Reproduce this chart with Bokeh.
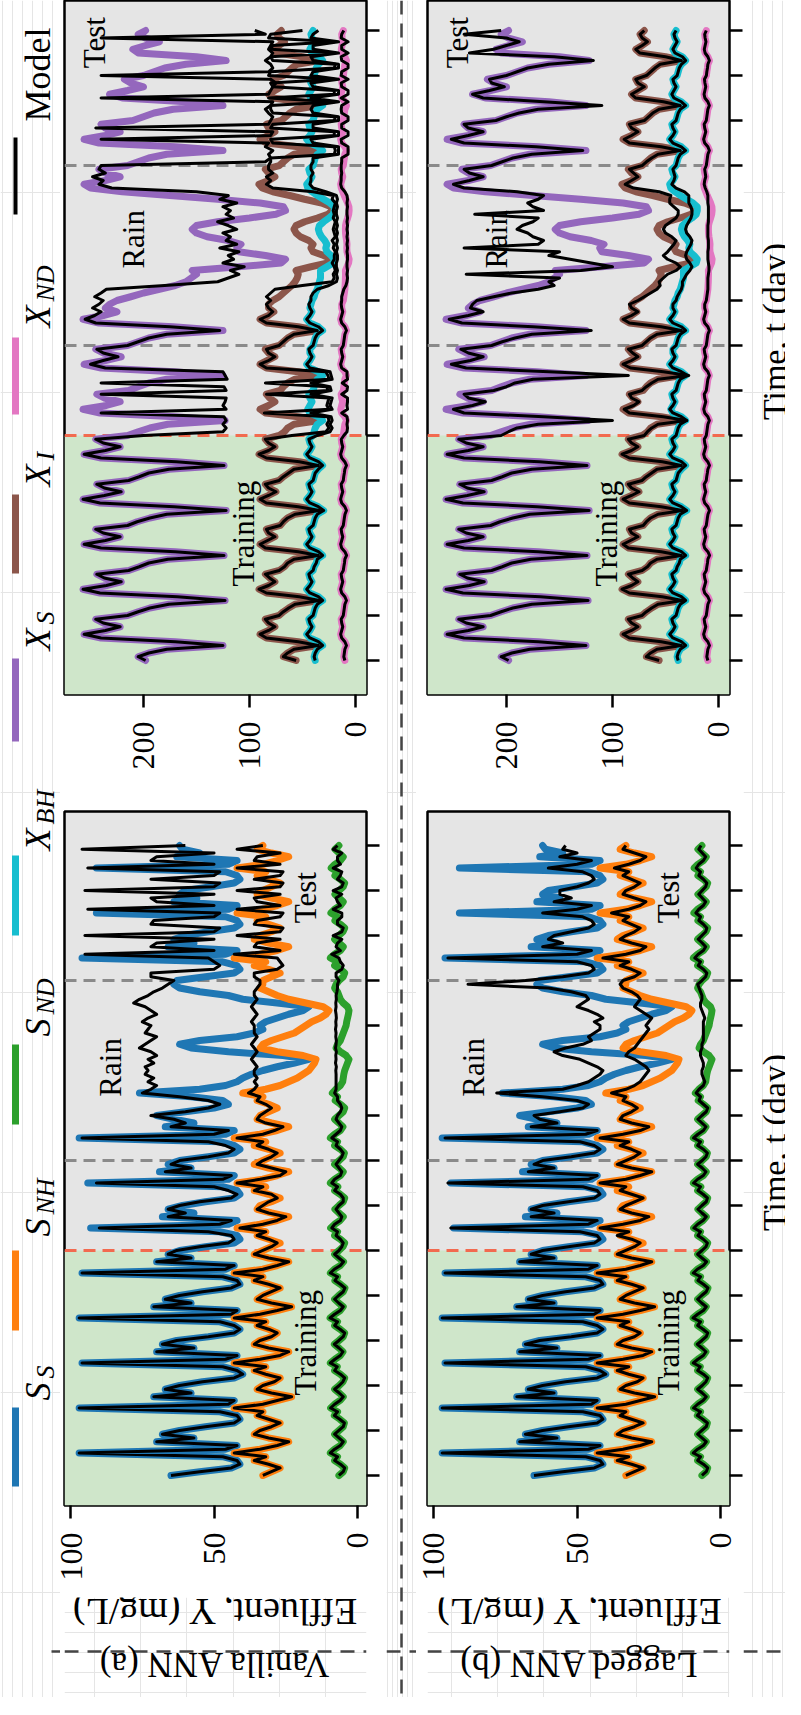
import math
from bokeh.plotting import figure
from bokeh.layouts import row, column
from bokeh.models import Range1d, FixedTicker, BoxAnnotation, Span
from bokeh.core.properties import value
from bokeh.embed import file_html
from bokeh.resources import INLINE

SERIF = "Liberation Serif"
C_SS, C_SNH, C_SND = "#1f77b4", "#ff7f0e", "#2ca02c"
C_XBH, C_XS, C_XI, C_XND = "#17becf", "#9467bd", "#8c564b", "#e377c2"
GRAY_BG = "#e5e5e5"
GREEN_BG = "#cfe6ca"
RED = "#f26a4f"
GRAY_DASH = "#8a8a8a"
SEP = "#454545"

DAY_TICKS = list(range(15))
S_TICKS = [0, 50, 100]
X_TICKS = [0, 100, 200]
TRAIN_END = 5
GRAY_LINES = [7, 11]
STEPS = 12
t = [k / STEPS for k in range(14 * STEPS + 1)]

# ---------------- true series (2-hour samples, one row per day) ----------------
SS_DAYS = [
    [65, 55, 44, 41, 42, 47, 97, 46, 42, 70, 57, 68],
    [62, 53, 43, 41, 42, 48, 97, 45, 43, 71, 58, 67],
    [62, 54, 43, 40, 42, 47, 96, 46, 42, 70, 57, 68],
    [63, 52, 43, 41, 43, 48, 97, 44, 42, 71, 58, 67],
    [62, 54, 44, 41, 42, 47, 96, 46, 43, 70, 58, 66],
    [62, 53, 43, 41, 42, 48, 93, 45, 42, 68, 57, 66],
    [61, 53, 43, 41, 42, 47, 94, 45, 43, 69, 58, 66],
    [62, 52, 43, 41, 43, 48, 97, 46, 43, 67, 57, 64],
    [70, 60, 50, 45, 47, 58, 76, 55, 46, 42, 40, 37],
    [33, 28, 22, 17, 26, 45, 58, 62, 55, 42, 36, 33],
    [34, 32, 28, 24, 19, 17, 28, 40, 45, 55, 62, 64],
    [63, 53, 43, 41, 42, 47, 96, 46, 42, 66, 57, 64],
    [60, 52, 43, 41, 42, 46, 91, 45, 42, 64, 56, 62],
    [60, 51, 43, 41, 42, 46, 91, 45, 42, 63, 55, 61],
]
SS_END = 62
SNH_DAYS = [
    [33, 30, 27, 31, 36, 32, 43, 34, 28, 24, 31, 36],
    [34, 30, 27, 31, 35, 33, 43, 33, 28, 23, 30, 35],
    [33, 29, 27, 32, 36, 32, 43, 34, 27, 24, 31, 36],
    [34, 30, 28, 31, 35, 32, 43, 34, 28, 23, 30, 35],
    [33, 30, 27, 31, 36, 33, 43, 33, 28, 24, 31, 36],
    [33, 30, 27, 31, 35, 32, 42, 34, 28, 24, 30, 35],
    [34, 30, 27, 31, 36, 32, 42, 33, 28, 24, 31, 36],
    [33, 30, 27, 31, 36, 32, 43, 34, 28, 24, 30, 35],
    [34, 31, 28, 31, 35, 33, 40, 32, 27, 24, 21, 19],
    [17, 16, 15, 14.5, 19, 28, 34, 33, 30, 26, 22, 20],
    [18, 16, 13, 11, 10, 12, 18, 24, 28, 31, 34, 33],
    [33, 30, 27, 31, 36, 32, 43, 34, 28, 24, 31, 36],
    [34, 30, 27, 31, 35, 32, 42, 33, 28, 24, 30, 35],
    [33, 30, 27, 31, 35, 32, 42, 33, 28, 24, 30, 35],
]
SNH_END = 33
SND_DAYS = [
    [6.5, 5.0, 4.5, 6.0, 8.0, 7.0, 9.5, 8.0, 6.0, 5.0, 6.5, 8.0],
    [6.5, 5.0, 4.6, 6.2, 8.1, 7.0, 9.4, 8.0, 6.1, 5.0, 6.4, 8.0],
    [6.4, 5.1, 4.5, 6.0, 8.0, 7.1, 9.5, 7.9, 6.0, 5.1, 6.5, 8.1],
    [6.5, 5.0, 4.5, 6.1, 8.0, 7.0, 9.6, 8.0, 6.0, 5.0, 6.6, 8.0],
    [6.6, 5.0, 4.4, 6.0, 7.9, 7.0, 9.5, 8.1, 6.0, 4.9, 6.5, 8.0],
    [6.5, 5.1, 4.5, 6.0, 8.0, 7.0, 9.4, 8.0, 6.1, 5.0, 6.5, 7.9],
    [6.5, 5.0, 4.5, 6.1, 8.0, 6.9, 9.5, 8.0, 6.0, 5.0, 6.4, 8.0],
    [6.4, 5.0, 4.6, 6.0, 8.0, 7.0, 9.5, 8.0, 6.0, 5.1, 6.5, 8.0],
    [6.5, 5.0, 4.5, 6.0, 7.8, 7.0, 8.8, 7.6, 6.0, 5.2, 5.0, 4.8],
    [4.5, 4.0, 3.5, 3.0, 4.0, 6.0, 7.5, 7.0, 6.0, 5.5, 5.0, 4.5],
    [4.0, 3.8, 3.5, 3.2, 3.0, 3.5, 5.0, 6.0, 6.5, 7.0, 8.0, 7.5],
    [6.5, 5.0, 4.5, 6.0, 8.0, 7.0, 9.5, 8.0, 6.0, 5.0, 6.5, 8.0],
    [6.5, 5.1, 4.5, 6.0, 7.9, 7.0, 9.3, 8.0, 6.0, 5.0, 6.4, 7.9],
    [6.4, 5.0, 4.5, 6.0, 7.9, 7.0, 9.2, 7.9, 6.0, 5.0, 6.5, 7.9],
]
SND_END = 6.5
XS_DAYS = [
    [198, 205, 195, 178, 125, 170, 240, 256, 236, 222, 238, 245],
    [215, 205, 194, 176, 123, 168, 241, 257, 235, 221, 237, 244],
    [214, 204, 195, 177, 124, 170, 240, 256, 236, 222, 238, 245],
    [215, 206, 194, 178, 122, 171, 241, 257, 237, 221, 237, 244],
    [214, 204, 195, 176, 124, 169, 240, 256, 236, 222, 238, 245],
    [215, 205, 194, 177, 123, 170, 241, 257, 235, 222, 237, 244],
    [214, 205, 195, 178, 125, 171, 240, 256, 236, 221, 238, 245],
    [215, 205, 195, 178, 125, 172, 242, 257, 238, 225, 236, 232],
    [225, 212, 200, 185, 170, 160, 155, 150, 154, 110, 70, 66],
    [85, 110, 112, 108, 120, 140, 150, 154, 150, 130, 100, 75],
    [66, 68, 90, 130, 175, 220, 250, 256, 236, 222, 236, 242],
    [215, 205, 195, 178, 125, 170, 242, 256, 236, 222, 236, 240],
    [210, 200, 190, 172, 125, 160, 220, 232, 215, 200, 212, 218],
    [200, 190, 180, 160, 122, 150, 205, 210, 198, 185, 198, 205],
]
XS_END = 198
XI_DAYS = [
    [56, 68, 64, 58, 35, 54, 84, 90, 82, 76, 82, 85],
    [72, 68, 63, 57, 34, 53, 84, 91, 82, 76, 81, 85],
    [72, 67, 64, 58, 35, 54, 85, 90, 83, 76, 82, 84],
    [71, 68, 64, 57, 34, 54, 84, 90, 82, 75, 82, 85],
    [72, 68, 63, 58, 35, 53, 84, 91, 82, 76, 82, 85],
    [72, 67, 64, 58, 34, 54, 85, 90, 82, 76, 81, 84],
    [71, 68, 64, 57, 35, 54, 84, 90, 83, 76, 82, 85],
    [72, 68, 64, 58, 35, 54, 84, 90, 82, 77, 82, 82],
    [78, 72, 68, 64, 60, 57, 55, 54, 56, 42, 26, 22],
    [30, 40, 42, 40, 44, 52, 56, 58, 56, 48, 36, 26],
    [22, 23, 32, 48, 62, 78, 88, 91, 82, 76, 82, 85],
    [72, 68, 64, 58, 35, 54, 84, 90, 82, 76, 82, 84],
    [70, 66, 62, 56, 35, 52, 78, 82, 76, 70, 76, 78],
    [68, 64, 60, 55, 34, 50, 74, 78, 72, 67, 72, 74],
]
XI_END = 70
XBH_DAYS = [
    [38, 39, 38, 36, 31, 35, 43, 46, 43, 41, 43, 44],
    [40, 39, 38, 36, 31, 35, 43, 46, 43, 41, 43, 44],
    [40, 39, 37, 36, 31, 35, 43, 46, 43, 41, 43, 44],
    [40, 39, 38, 36, 30, 35, 43, 46, 43, 41, 43, 44],
    [40, 39, 38, 35, 31, 35, 43, 46, 43, 41, 43, 44],
    [40, 39, 38, 36, 31, 35, 43, 45, 43, 41, 43, 44],
    [40, 39, 38, 36, 31, 35, 43, 46, 43, 41, 43, 43],
    [40, 39, 38, 36, 31, 35, 43, 46, 43, 41, 43, 42],
    [41, 39, 38, 36, 35, 34, 33, 33, 33, 27, 21, 20],
    [23, 27, 28, 27, 29, 32, 34, 35, 34, 30, 25, 21],
    [20, 20, 24, 30, 36, 41, 45, 46, 43, 41, 43, 44],
    [40, 39, 38, 36, 31, 35, 43, 46, 43, 41, 43, 44],
    [40, 39, 38, 36, 31, 35, 42, 44, 42, 40, 42, 43],
    [39, 38, 37, 35, 31, 34, 41, 43, 41, 39, 41, 42],
]
XBH_END = 40
XND_DAYS = [
    [10.0, 11.0, 10.5, 10.0, 8.5, 10.0, 13.0, 14.0, 13.0, 12.0, 13.0, 13.5],
    [11.5, 11.0, 10.5, 10.0, 8.5, 10.0, 13.0, 14.0, 13.0, 12.0, 13.0, 13.5],
    [11.5, 11.0, 10.4, 10.0, 8.4, 10.0, 13.1, 14.0, 13.0, 12.0, 13.0, 13.5],
    [11.5, 11.0, 10.5, 9.9, 8.5, 10.0, 13.0, 14.0, 13.1, 12.0, 13.0, 13.5],
    [11.5, 11.1, 10.5, 10.0, 8.5, 10.1, 13.0, 14.0, 13.0, 12.0, 13.0, 13.4],
    [11.5, 11.0, 10.5, 10.0, 8.5, 10.0, 13.0, 13.9, 13.0, 12.0, 13.0, 13.5],
    [11.4, 11.0, 10.5, 10.0, 8.6, 10.0, 13.0, 14.0, 13.0, 12.1, 13.0, 13.5],
    [11.5, 11.0, 10.5, 10.0, 8.5, 10.0, 13.0, 14.0, 13.0, 12.0, 13.0, 13.0],
    [11.5, 11.0, 10.5, 10.0, 9.8, 9.6, 9.5, 9.4, 9.5, 8.0, 6.5, 6.0],
    [7.0, 8.0, 8.2, 8.0, 8.4, 9.0, 9.4, 9.5, 9.4, 8.6, 7.4, 6.4],
    [6.0, 6.2, 7.4, 9.0, 10.6, 12.0, 13.4, 14.0, 13.0, 12.0, 13.0, 13.5],
    [11.5, 11.0, 10.5, 10.0, 8.5, 10.0, 13.0, 14.0, 13.0, 12.0, 13.0, 13.5],
    [11.5, 11.0, 10.5, 10.0, 8.5, 10.0, 12.8, 13.6, 12.8, 12.0, 12.8, 13.2],
    [11.4, 11.0, 10.4, 10.0, 8.5, 10.0, 12.6, 13.4, 12.6, 11.8, 12.6, 13.0],
]
XND_END = 11.5

# ---------------- model predictions after training (days 5-13) ----------------
SS_A_DAYS = [
    [63, 55, 45, 43, 44, 52, 90, 48, 44, 66, 60, 66],
    [62, 55, 44, 42, 45, 50, 91, 47, 44, 67, 58, 65],
    [62, 52, 45, 43, 46, 52, 96, 50, 45, 65, 60, 64],
    [72, 60, 52, 48, 52, 62, 75, 72, 70, 73, 71, 74],
    [73, 74, 71, 73, 70, 72, 76, 74, 72, 70, 74, 73],
    [72, 75, 73, 70, 72, 74, 78, 76, 73, 71, 68, 66],
    [64, 72, 72, 50, 48, 50, 52, 95, 50, 72, 70, 50],
    [95, 50, 48, 72, 71, 50, 48, 94, 50, 70, 72, 50],
    [95, 50, 48, 72, 50, 48, 94, 50, 72, 70, 50, 96],
]
SS_A_END = 60
SNH_A_DAYS = [
    [33, 30, 28, 31, 35, 32, 41, 33, 28, 25, 31, 35],
    [33, 31, 28, 30, 36, 33, 42, 34, 27, 25, 30, 35],
    [33, 30, 28, 31, 35, 33, 42, 33, 29, 26, 32, 35],
    [34, 32, 30, 32, 35, 34, 38, 36, 35, 36, 35, 36],
    [36, 35, 36, 37, 36, 35, 36, 37, 36, 35, 36, 36],
    [36, 37, 36, 35, 36, 37, 36, 35, 36, 36, 35, 34],
    [34, 36, 36, 28, 26, 27, 28, 43, 27, 36, 35, 27],
    [42, 27, 26, 36, 35, 27, 26, 42, 27, 35, 36, 27],
    [42, 27, 26, 36, 27, 26, 42, 27, 36, 35, 27, 42],
]
SNH_A_END = 33
SND_A_DAYS = [
    [6.5, 5.5, 5.0, 6.0, 7.5, 7.0, 9.0, 8.0, 6.0, 5.5, 6.5, 7.5],
    [6.5, 5.0, 5.0, 6.0, 8.0, 7.0, 9.0, 8.0, 6.0, 5.5, 6.5, 7.5],
    [6.5, 5.5, 5.0, 6.0, 7.5, 7.0, 9.0, 7.5, 6.0, 5.5, 6.5, 7.5],
    [7.0, 6.0, 5.5, 6.0, 7.0, 7.0, 8.0, 7.5, 7.5, 7.5, 7.5, 7.5],
    [7.6, 7.4, 7.7, 7.5, 7.6, 7.4, 7.7, 7.5, 7.4, 7.6, 7.5, 7.7],
    [7.5, 7.6, 7.4, 7.5, 7.7, 7.5, 7.6, 7.4, 7.5, 7.2, 7.0, 7.0],
    [6.5, 7.5, 7.5, 5.5, 5.0, 6.0, 6.5, 9.0, 6.0, 7.5, 7.0, 5.5],
    [8.5, 5.5, 5.0, 7.0, 7.0, 5.5, 5.5, 8.5, 6.0, 7.0, 7.5, 5.5],
    [8.5, 5.5, 5.0, 7.0, 6.0, 5.5, 8.5, 6.0, 7.0, 7.0, 5.5, 8.5],
]
SND_A_END = 7
XS_A_DAYS = [
    [200, 125, 122, 125, 122, 124, 240, 122, 125, 123, 122, 240],
    [122, 124, 240, 121, 123, 125, 236, 250, 238, 224, 238, 244],
    [215, 205, 195, 178, 128, 175, 245, 255, 246, 240, 248, 242],
    [238, 246, 240, 235, 180, 130, 120, 110, 118, 105, 125, 115],
    [120, 110, 128, 112, 122, 118, 125, 112, 120, 130, 115, 122],
    [118, 125, 112, 128, 120, 150, 230, 242, 238, 248, 236, 242],
    [240, 85, 80, 82, 78, 85, 82, 240, 80, 78, 245, 82],
    [80, 78, 82, 85, 80, 78, 240, 82, 80, 78, 75, 80],
    [240, 82, 78, 80, 85, 80, 78, 82, 80, 78, 240, 85],
]
XS_A_END = 95
XI_A_DAYS = [
    [60, 28, 25, 27, 25, 26, 86, 25, 27, 26, 25, 84],
    [26, 27, 85, 25, 26, 28, 84, 90, 82, 76, 82, 84],
    [72, 68, 64, 58, 36, 54, 84, 90, 82, 78, 82, 84],
    [80, 84, 80, 76, 50, 22, 20, 21, 19, 20, 22, 20],
    [20, 19, 21, 20, 22, 19, 20, 21, 20, 19, 21, 20],
    [21, 20, 19, 22, 21, 40, 78, 84, 80, 84, 78, 82],
    [82, 80, 80, 20, 19, 20, 78, 80, 20, 20, 80, 78],
    [20, 19, 78, 80, 80, 20, 82, 20, 20, 78, 80, 20],
    [82, 80, 20, 19, 78, 80, 20, 80, 78, 20, 82, 80],
]
XI_A_END = 50
XBH_A_DAYS = [
    [36, 24, 22, 24, 22, 23, 42, 22, 24, 23, 22, 42],
    [23, 24, 42, 22, 23, 24, 43, 46, 43, 41, 43, 44],
    [40, 39, 38, 36, 31, 35, 43, 46, 43, 41, 43, 44],
    [42, 42, 40, 36, 25, 18, 17, 18, 17, 18, 18, 17],
    [17, 18, 17, 18, 17, 18, 17, 18, 17, 18, 17, 18],
    [18, 17, 18, 17, 18, 28, 40, 43, 42, 42, 40, 42],
    [42, 40, 40, 16, 16, 16, 40, 42, 16, 16, 40, 40],
    [16, 16, 40, 42, 40, 16, 42, 16, 16, 40, 42, 16],
    [42, 40, 16, 16, 40, 42, 16, 40, 40, 16, 42, 40],
]
XBH_A_END = 35
XND_A_DAYS = [
    [11.0, 8.0, 7.5, 8.0, 7.5, 8.0, 13.0, 7.5, 8.0, 7.5, 7.5, 13.0],
    [8.0, 7.5, 12.5, 7.5, 8.0, 8.0, 13.0, 14.0, 13.0, 12.0, 13.0, 13.5],
    [11.5, 11.0, 10.5, 10.0, 8.5, 10.0, 13.0, 14.0, 13.0, 12.0, 13.0, 13.5],
    [13.0, 13.0, 12.0, 11.0, 9.0, 8.0, 7.5, 8.0, 7.5, 8.0, 8.0, 7.5],
    [7.5, 8.0, 7.5, 8.0, 7.5, 8.0, 7.5, 8.0, 7.5, 8.0, 7.5, 8.0],
    [8.0, 7.5, 8.0, 7.5, 8.0, 10.0, 13.0, 14.0, 13.5, 13.5, 13.0, 13.5],
    [13.5, 13.0, 13.0, 7.0, 7.0, 7.0, 13.0, 13.5, 7.0, 7.0, 13.0, 13.0],
    [7.0, 7.0, 13.0, 13.5, 13.0, 7.0, 13.5, 7.0, 7.0, 13.0, 13.5, 7.0],
    [13.5, 13.0, 7.0, 7.0, 13.0, 13.5, 7.0, 13.0, 13.0, 7.0, 13.5, 13.0],
]
XND_A_END = 11

SS_B_DAYS = [
    [62, 53, 44, 42, 43, 49, 94, 46, 43, 66, 58, 66],
    [62, 53, 44, 42, 43, 48, 95, 46, 43, 67, 58, 65],
    [62, 52, 44, 42, 44, 49, 96, 47, 43, 66, 57, 63],
    [65, 56, 48, 46, 50, 62, 78, 55, 50, 46, 44, 42],
    [41, 43, 46, 49, 55, 58, 54, 48, 45, 46, 44, 42],
    [42, 44, 41, 43, 46, 50, 48, 46, 47, 52, 60, 88],
    [68, 55, 46, 44, 45, 50, 95, 50, 45, 62, 55, 60],
    [58, 52, 46, 44, 45, 48, 62, 50, 45, 58, 52, 56],
    [56, 50, 46, 44, 45, 48, 60, 50, 45, 56, 50, 55],
]
SS_B_END = 54
SNH_B_DAYS = [
    [33, 30, 28, 31, 36, 32, 42, 34, 28, 25, 31, 35],
    [33, 30, 27, 31, 35, 33, 42, 33, 28, 24, 31, 36],
    [33, 30, 28, 31, 35, 32, 42, 34, 28, 25, 31, 35],
    [34, 31, 29, 31, 34, 33, 38, 33, 30, 28, 27, 26],
    [25, 26, 28, 30, 33, 32, 30, 29, 28, 27, 26, 25],
    [26, 25, 24, 26, 28, 30, 29, 28, 29, 31, 34, 35],
    [34, 30, 28, 31, 35, 32, 41, 33, 28, 26, 31, 35],
    [33, 30, 28, 31, 34, 32, 38, 32, 28, 26, 30, 34],
    [33, 30, 28, 31, 34, 32, 37, 32, 28, 26, 30, 34],
]
SNH_B_END = 33
SND_B_DAYS = [
    [6.5, 5.1, 4.6, 6.0, 7.9, 7.0, 9.3, 8.0, 6.1, 5.0, 6.5, 7.9],
    [6.5, 5.0, 4.6, 6.1, 7.9, 7.0, 9.4, 8.0, 6.0, 5.1, 6.4, 8.0],
    [6.4, 5.1, 4.6, 6.0, 8.0, 7.0, 9.4, 7.9, 6.0, 5.1, 6.5, 7.9],
    [6.5, 5.0, 4.5, 6.0, 7.5, 7.0, 8.5, 7.5, 6.0, 5.5, 6.0, 6.5],
    [6.5, 6.0, 6.0, 6.5, 7.0, 7.0, 6.5, 6.5, 6.0, 6.0, 6.0, 6.0],
    [6.0, 6.0, 5.5, 6.0, 6.5, 7.0, 7.0, 6.5, 6.5, 7.0, 7.5, 8.0],
    [6.5, 5.2, 4.8, 6.0, 7.8, 7.0, 9.0, 7.8, 6.0, 5.2, 6.4, 7.8],
    [6.5, 5.2, 4.8, 6.0, 7.6, 7.0, 8.6, 7.6, 6.0, 5.2, 6.4, 7.6],
    [6.4, 5.2, 4.8, 6.0, 7.6, 7.0, 8.5, 7.6, 6.0, 5.2, 6.4, 7.6],
]
SND_B_END = 6.8
XS_B_DAYS = [
    [205, 198, 190, 170, 100, 165, 240, 250, 232, 220, 236, 240],
    [212, 200, 192, 175, 85, 160, 238, 252, 234, 222, 236, 243],
    [214, 204, 192, 176, 120, 175, 242, 254, 236, 222, 234, 232],
    [228, 212, 195, 170, 155, 160, 150, 238, 130, 100, 120, 140],
    [160, 150, 240, 170, 165, 175, 180, 190, 185, 175, 170, 230],
    [165, 175, 180, 170, 165, 190, 240, 250, 235, 222, 235, 240],
    [214, 204, 194, 176, 128, 172, 240, 252, 236, 222, 236, 240],
    [210, 200, 188, 170, 110, 165, 222, 232, 216, 202, 214, 216],
    [200, 190, 180, 160, 118, 155, 235, 212, 200, 188, 200, 240],
]
XS_B_END = 205
XI_B_DAYS = [
    [70, 67, 63, 57, 30, 52, 84, 89, 80, 75, 82, 84],
    [72, 68, 63, 57, 28, 52, 83, 90, 82, 76, 81, 85],
    [72, 68, 64, 58, 35, 54, 84, 90, 82, 76, 82, 84],
    [76, 70, 64, 58, 55, 56, 52, 48, 40, 36, 40, 48],
    [52, 48, 45, 42, 40, 44, 50, 52, 50, 45, 40, 38],
    [38, 42, 46, 46, 45, 56, 80, 88, 82, 76, 80, 84],
    [72, 68, 63, 57, 36, 54, 84, 89, 82, 76, 82, 84],
    [70, 66, 62, 56, 36, 52, 78, 82, 76, 70, 76, 78],
    [68, 64, 60, 55, 35, 50, 74, 78, 72, 67, 72, 74],
]
XI_B_END = 70
XBH_B_DAYS = [
    [40, 39, 38, 36, 30, 35, 43, 46, 43, 41, 43, 44],
    [40, 39, 38, 36, 29, 35, 43, 46, 43, 41, 43, 44],
    [40, 39, 38, 36, 31, 35, 43, 46, 43, 41, 43, 43],
    [40, 39, 37, 35, 34, 34, 32, 30, 27, 25, 27, 30],
    [31, 30, 28, 26, 25, 27, 30, 31, 30, 28, 26, 25],
    [25, 26, 28, 28, 28, 32, 40, 44, 42, 41, 42, 43],
    [40, 39, 38, 36, 31, 35, 43, 46, 43, 41, 43, 44],
    [40, 39, 38, 36, 31, 35, 42, 44, 42, 40, 42, 43],
    [39, 38, 37, 35, 31, 34, 41, 43, 41, 39, 41, 42],
]
XBH_B_END = 40
XND_B_DAYS = [
    [11.5, 11.0, 10.5, 10.0, 8.6, 10.0, 13.0, 13.9, 13.0, 12.0, 13.0, 13.4],
    [11.5, 11.0, 10.5, 10.0, 8.6, 10.0, 13.0, 14.0, 13.0, 12.0, 13.0, 13.5],
    [11.5, 11.0, 10.5, 10.0, 8.6, 10.0, 13.0, 14.0, 13.0, 12.0, 13.0, 13.0],
    [11.5, 11.0, 10.5, 10.0, 10.0, 10.0, 10.0, 9.5, 9.0, 9.0, 9.5, 10.0],
    [10.0, 10.0, 9.5, 9.5, 9.5, 10.0, 10.0, 10.0, 10.0, 9.5, 9.5, 9.5],
    [9.5, 9.5, 10.0, 10.0, 10.0, 11.0, 12.5, 13.5, 13.0, 12.0, 12.5, 13.0],
    [11.5, 11.0, 10.5, 10.0, 8.6, 10.0, 13.0, 14.0, 13.0, 12.0, 13.0, 13.5],
    [11.5, 11.0, 10.5, 10.0, 8.6, 10.0, 12.8, 13.6, 12.8, 12.0, 12.8, 13.2],
    [11.4, 11.0, 10.4, 10.0, 8.6, 10.0, 12.6, 13.4, 12.6, 11.8, 12.6, 13.0],
]
XND_B_END = 11.5


def flat(days, end):
    return [v for d in days for v in d] + [end]


SS, SNH, SND = flat(SS_DAYS, SS_END), flat(SNH_DAYS, SNH_END), flat(SND_DAYS, SND_END)
XS, XI, XBH, XND = (flat(XS_DAYS, XS_END), flat(XI_DAYS, XI_END),
                    flat(XBH_DAYS, XBH_END), flat(XND_DAYS, XND_END))
NT = TRAIN_END * STEPS  # model equals truth during training


def model(truth, days, end):
    return truth[:NT] + flat(days, end)


SS_A, SNH_A, SND_A = (model(SS, SS_A_DAYS, SS_A_END), model(SNH, SNH_A_DAYS, SNH_A_END),
                      model(SND, SND_A_DAYS, SND_A_END))
XS_A, XI_A, XBH_A, XND_A = (model(XS, XS_A_DAYS, XS_A_END), model(XI, XI_A_DAYS, XI_A_END),
                            model(XBH, XBH_A_DAYS, XBH_A_END), model(XND, XND_A_DAYS, XND_A_END))
SS_B, SNH_B, SND_B = (model(SS, SS_B_DAYS, SS_B_END), model(SNH, SNH_B_DAYS, SNH_B_END),
                      model(SND, SND_B_DAYS, SND_B_END))
XS_B, XI_B, XBH_B, XND_B = (model(XS, XS_B_DAYS, XS_B_END), model(XI, XI_B_DAYS, XI_B_END),
                            model(XBH, XBH_B_DAYS, XBH_B_END), model(XND, XND_B_DAYS, XND_B_END))
for s in (SS, SNH, SND, XS, XI, XBH, XND, SS_A, SNH_A, SND_A, XS_A, XI_A, XBH_A, XND_A,
          SS_B, SNH_B, SND_B, XS_B, XI_B, XBH_B, XND_B):
    assert len(s) == len(t), len(s)

PHASES = ["Training", "Rain", "Test"]
S_LABEL_T, S_LABEL_V = [2.95, 9.07, 12.84], [18, 86, 18]
X_LABEL_T, X_LABEL_V = [2.82, 9.36, 13.73], [106, 209, 246]
TIME_LABEL = "Time, t (day)"

TOTAL_H = 1697


def make_panel(xr, yr, vticks, w, h, mbl, mbr, mbt, mbb, truths, models, lab_t, lab_v):
    p = figure(width=w, height=h, x_range=Range1d(*xr), y_range=Range1d(*yr),
               x_axis_location="below", y_axis_location="right",
               toolbar_location=None, output_backend="svg",
               min_border_left=mbl, min_border_right=mbr,
               min_border_top=mbt, min_border_bottom=mbb)
    p.grid.visible = False
    p.background_fill_color = GRAY_BG
    p.border_fill_color = "white"
    p.outline_line_color = "black"
    p.outline_line_width = 2.5
    p.xaxis.ticker = FixedTicker(ticks=vticks)
    p.yaxis.ticker = FixedTicker(ticks=DAY_TICKS)
    for ax in (p.xaxis[0], p.yaxis[0]):
        ax.axis_line_color = None
        ax.major_tick_line_color = "black"
        ax.major_tick_line_width = 2.5
        ax.major_tick_out = 13
        ax.major_tick_in = 0
        ax.minor_tick_line_color = None
    p.xaxis.major_label_orientation = math.pi / 2
    p.xaxis.major_label_text_font = SERIF
    p.xaxis.major_label_text_font_size = "32px"
    p.xaxis.major_label_text_color = "black"
    p.xaxis.major_label_standoff = 14
    # time ticks carry no labels
    p.yaxis.major_label_text_color = None
    p.yaxis.major_label_text_font_size = "1px"
    p.yaxis.major_label_standoff = 0

    p.add_layout(BoxAnnotation(top=TRAIN_END, fill_color=GREEN_BG, fill_alpha=1.0,
                               line_color=None, level="underlay"))
    p.add_layout(Span(location=TRAIN_END, dimension="width", line_color=RED,
                      line_width=3, line_dash="12 7", level="underlay"))
    for g in GRAY_LINES:
        p.add_layout(Span(location=g, dimension="width", line_color=GRAY_DASH,
                          line_width=3, line_dash="12 7", level="underlay"))
    for vals, col in truths:
        p.line(vals, t, line_color=col, line_width=7, line_join="round", line_cap="round")
    for vals in models:
        p.line(vals, t, line_color="black", line_width=3, line_join="round")
    p.text(x=lab_v, y=lab_t, text=PHASES, angle=math.pi / 2, text_align="center",
           text_baseline="middle", text_font=value(SERIF), text_font_size=value("31px"),
           text_color="black")
    return p


S_XR = (102.1, -3.1)
X_XR = (274.5, -10.4)
X_YR = (-0.756, 14.667)
S_YR = (-0.667, 14.756)

S_TRUE = [(SS, C_SS), (SNH, C_SNH), (SND, C_SND)]
X_TRUE = [(XS, C_XS), (XI, C_XI), (XBH, C_XBH), (XND, C_XND)]

# left column canvas spans page x 68..394 (frame 72..374)
pXa = make_panel(X_XR, X_YR, X_TICKS, 326, 797, 4, 20, 0, 103, X_TRUE,
                 [XS_A, XI_A, XBH_A, XND_A], X_LABEL_T, X_LABEL_V)
pSa = make_panel(S_XR, S_YR, S_TICKS, 326, 800, 4, 20, 14, 92, S_TRUE,
                 [SS_A, SNH_A, SND_A], S_LABEL_T, S_LABEL_V)
# right column canvas spans page x 424..751 (frame 435..737)
pXb = make_panel(X_XR, X_YR, X_TICKS, 327, 797, 11, 14, 0, 103, X_TRUE,
                 [XS_B, XI_B, XBH_B, XND_B], X_LABEL_T, X_LABEL_V)
pSb = make_panel(S_XR, S_YR, S_TICKS, 327, 800, 11, 14, 14, 92, S_TRUE,
                 [SS_B, SNH_B, SND_B], S_LABEL_T, S_LABEL_V)


def blank(w, h, xr, yr):
    f = figure(width=w, height=h, x_range=Range1d(*xr), y_range=Range1d(*yr),
               x_axis_location=None, y_axis_location=None, toolbar_location=None,
               output_backend="svg", min_border=0)
    f.outline_line_color = None
    f.background_fill_color = "white"
    f.border_fill_color = "white"
    return f


def txt(f, x, y, s, angle, size, italic=False, align="left"):
    f.text(x=[x], y=[y], text=[s], angle=angle, text_align=align,
           text_baseline="alphabetic", text_font=value(SERIF),
           text_font_style="italic" if italic else "normal",
           text_font_size=value(f"{size}px"), text_color="black")


# ---- legend strip (page coordinates) ----
leg = blank(60, TOTAL_H, (8, 68), (8 + TOTAL_H, 8))
LEG_MAIN = ["S", "S", "S", "X", "X", "X", "X"]
LEG_SUB = ["S", "NH", "ND", "BH", "S", "I", "ND"]
LEG_COLORS = [C_SS, C_SNH, C_SND, C_XBH, C_XS, C_XI, C_XND]
LEG_Y0 = [1494, 1338, 1132, 943, 749, 581, 422]
LEG_Y1 = [1415, 1258, 1052, 863, 666, 502, 345]
LEG_TXT = [1408, 1244, 1044, 858, 658, 494, 335]
MAIN_ADV = {"S": 22, "X": 26}
leg.segment(x0=[23] * 7, y0=LEG_Y0, x1=[23] * 7, y1=LEG_Y1, line_color=LEG_COLORS, line_width=7)
leg.segment(x0=[23], y0=[222], x1=[23], y1=[145], line_color="black", line_width=4)
for m, s, y in zip(LEG_MAIN, LEG_SUB, LEG_TXT):
    txt(leg, 45, y, m, math.pi / 2, 36, italic=True)
    txt(leg, 53, y - MAIN_ADV[m], s, math.pi / 2, 26, italic=True)
txt(leg, 45, 129, "Model", math.pi / 2, 36)
leg.segment(x0=[59], y0=[1659], x1=[68], y1=[1659], line_color=SEP, line_width=2.5)

# ---- vertical separator strip ----
sep = blank(30, TOTAL_H, (394, 424), (8 + TOTAL_H, 8))
sep.segment(x0=[409], y0=[8], x1=[409], y1=[8 + TOTAL_H], line_color=SEP, line_width=2.5,
            line_dash="14 9")
sep.segment(x0=[394], y0=[1659], x1=[424], y1=[1659], line_color=SEP, line_width=2.5,
            line_dash="14 9")

# ---- time-axis label strip ----
tstrip = blank(42, TOTAL_H, (751, 793), (8 + TOTAL_H, 8))
for c in (339, 1150):
    txt(tstrip, 782, c, TIME_LABEL, math.pi / 2, 34, align="center")
tstrip.segment(x0=[751], y0=[1659], x1=[793], y1=[1659], line_color=SEP, line_width=2.5,
               line_dash="14 9")


# ---- bottom label strips ----
def label_strip(x0, x1, xc, row_label):
    f = blank(x1 - x0, 100, (x0, x1), (1705, 1605))
    txt(f, xc, 1619, "Effluent, Y (mg/L)", math.pi, 38, align="center")
    f.segment(x0=[x0], y0=[1659], x1=[x1], y1=[1659], line_color=SEP, line_width=2.5,
              line_dash="14 9")
    txt(f, xc, 1672, row_label, math.pi, 35, align="center")
    return f


labA = label_strip(68, 394, 229, "Vanilla ANN (a)")
labB = label_strip(424, 751, 587, "Lagged ANN (b)")

layout = row(leg, column(pXa, pSa, labA), sep, column(pXb, pSb, labB), tstrip)
open("out.html", "w").write(file_html(layout, INLINE, "plot"))
